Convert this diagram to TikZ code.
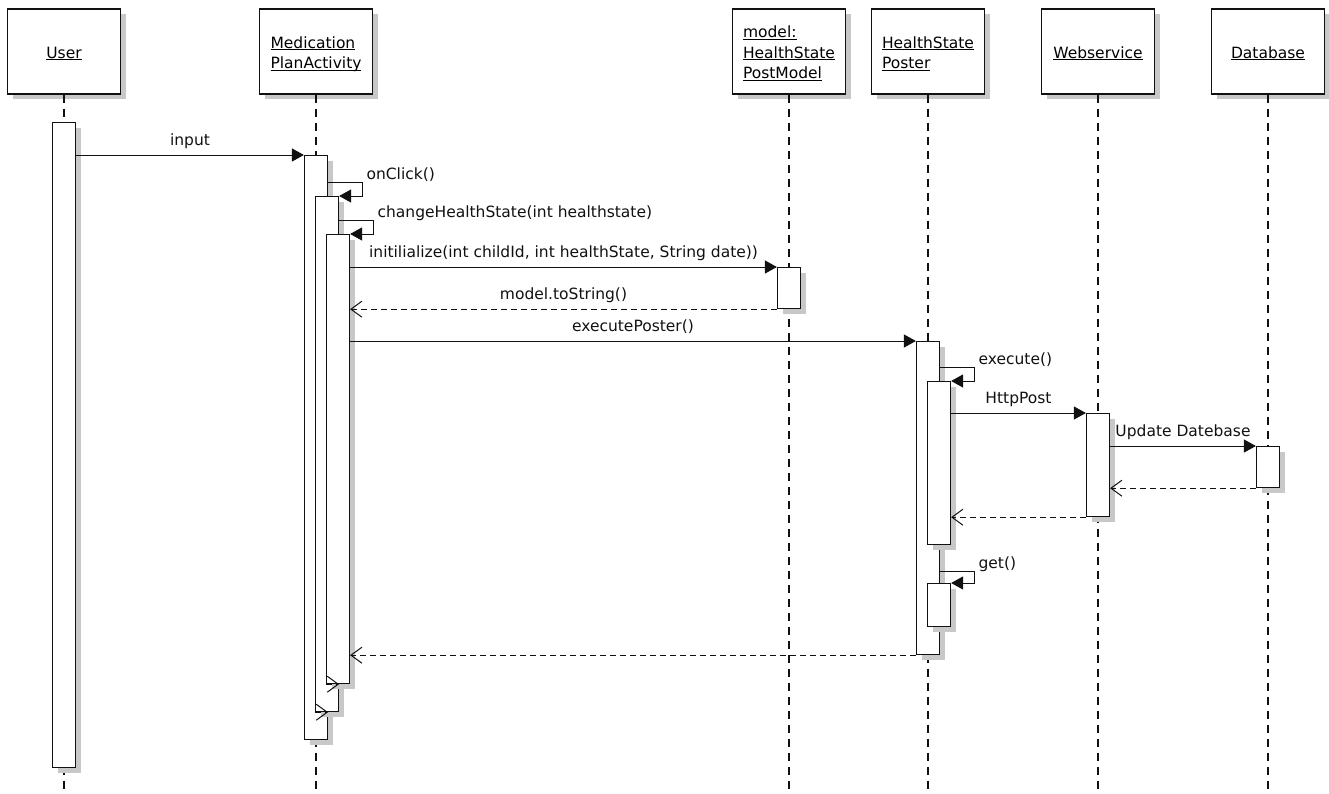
\documentclass[tikz,border=0pt]{standalone}
\usepackage{fontspec}
\setmainfont{DejaVu Sans}
\usetikzlibrary{arrows.meta, shadows}
\definecolor{seqShadow}{HTML}{C8C8C8}
\definecolor{seqLine}{HTML}{111111}

\newcommand{\ulname}[1]{\underline{\smash{#1}}\rule[-3.5pt]{0pt}{20.5pt}}

\begin{document}
\begin{tikzpicture}[x=1pt, y=-1pt,
  font=\fontsize{15.5}{20.5}\selectfont,
  obj/.style={draw=seqLine, fill=white, line width=1.2pt, align=left,
              minimum width=113pt, minimum height=85pt, inner sep=0pt,
              drop shadow={shadow xshift=5pt, shadow yshift=-5pt,
                           fill=seqShadow, opacity=1}},
  act/.style={draw=seqLine, fill=white, line width=1.2pt, anchor=north,
              minimum width=23pt, inner sep=0pt,
              drop shadow={shadow xshift=5pt, shadow yshift=-5pt,
                           fill=seqShadow, opacity=1}},
  life/.style={draw=seqLine, line width=1.1pt, dash pattern=on 8pt off 6pt},
  msg/.style={-{Triangle[length=12pt, width=13pt]}, draw=seqLine, line width=1pt},
  ret/.style={-{Straight Barb[length=11pt, width=16pt]}, draw=seqLine,
              line width=1pt, dash pattern=on 6pt off 4pt},
  lbl/.style={anchor=base, yshift=9.5pt, inner sep=0pt, text=seqLine},
  selflbl/.style={anchor=base west, xshift=4pt, yshift=3pt, inner sep=0pt, text=seqLine},
]
\useasboundingbox (0,0) rectangle (1329,793);
\coordinate (bottom) at (0,793);

% --- objects ---
\node[obj] (user)   at (64,51.5)   {\ulname{User}};
\node[obj] (med)    at (316,51.5)  {\ulname{Medication}\\\ulname{PlanActivity}};
\node[obj] (model)  at (789,51.5)  {\ulname{model:}\\\ulname{HealthState}\\\ulname{PostModel}};
\node[obj] (poster) at (928,51.5)  {\ulname{HealthState}\\\ulname{Poster}};
\node[obj] (web)    at (1098,51.5) {\ulname{Webservice}};
\node[obj] (db)     at (1268,51.5) {\ulname{Database}};

% --- lifelines ---
\foreach \o in {user, med, model, poster, web, db}
  \draw[life] (\o.south) -- (\o.south |- bottom);

% --- activations (nested ones after their parent) ---
\node[act, minimum height=645pt] (u1)  at (64,122)   {};
\node[act, minimum height=584pt] (m1)  at (316,155)  {};
\node[act, minimum height=515pt] (m2)  at (327,196)  {};
\node[act, minimum height=449pt] (m3)  at (338,234)  {};
\node[act, minimum height=41pt]  (md1) at (789,267)  {};
\node[act, minimum height=313pt] (p1)  at (928,341)  {};
\node[act, minimum height=163pt] (p2)  at (939,381)  {};
\node[act, minimum height=43pt]  (p3)  at (939,583)  {};
\node[act, minimum height=103pt] (w1)  at (1098,413) {};
\node[act, minimum height=41pt]  (d1)  at (1268,446) {};

% --- calls ---
\draw[msg] (u1.east |- m1.north) -- (m1.north west) node[lbl, midway] {input};
\draw[msg] (m1.east |- m2.north) ++(0,-14) -- ++(34,0) node[selflbl] {onClick()}
  -- ++(0,14) -- (m2.north east);
\draw[msg] (m2.east |- m3.north) ++(0,-14) -- ++(34,0) node[selflbl] {changeHealthState(int healthstate)}
  -- ++(0,14) -- (m3.north east);
\draw[msg] (m3.east |- md1.north) -- (md1.north west)
  node[lbl, midway] {initilialize(int childId, int healthState, String date))};
\draw[msg] (m3.east |- p1.north) -- (p1.north west) node[lbl, midway] {executePoster()};
\draw[msg] (p1.east |- p2.north) ++(0,-14) -- ++(34,0) node[selflbl] {execute()}
  -- ++(0,14) -- (p2.north east);
\draw[msg] (p2.east |- w1.north) -- (w1.north west) node[lbl, midway] {HttpPost};
\draw[msg] (w1.east |- d1.north) -- (d1.north west) node[lbl, midway] {Update Datebase};
\draw[msg] (p1.east |- p3.north) ++(0,-12) -- ++(34,0) node[selflbl] {get()}
  -- ++(0,12) -- (p3.north east);

% --- returns ---
\draw[ret] (md1.south west) -- (m3.east |- md1.south) node[lbl, midway] {model.toString()};
\draw[ret] (d1.south west) -- (w1.east |- d1.south);
\draw[ret] (w1.south west) -- (p2.east |- w1.south);
\draw[ret] (p1.south west) -- (m3.east |- p1.south);
\draw[ret] (m3.south west) -- (m2.east |- m3.south);
\draw[ret] (m2.south west) -- (m1.east |- m2.south);
\end{tikzpicture}
\end{document}
